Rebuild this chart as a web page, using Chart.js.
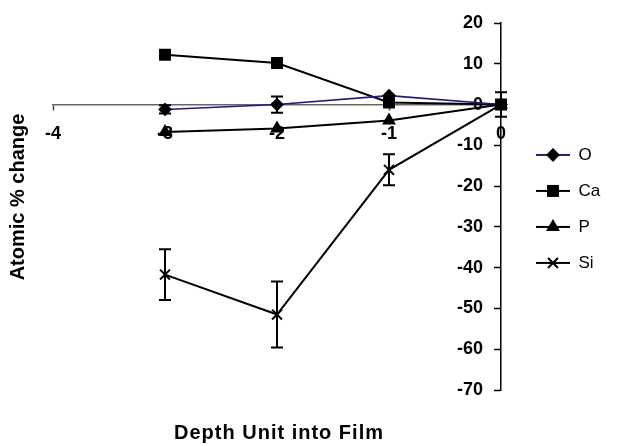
<!DOCTYPE html>
<html><head><meta charset="utf-8">
<script src="https://cdn.jsdelivr.net/npm/chart.js@4/dist/chart.umd.min.js"></script>
<style>html,body{margin:0;padding:0;background:#fff;}#wrap{width:618px;height:444px;position:relative;}</style>
</head><body><div id="wrap"><canvas id="c" width="618" height="444"></canvas></div>
<script>
const depth = [-3, -2, -1, 0];
const seriesNames = ['O', 'Ca', 'P', 'Si'];
const oValues = [-1.2, 0, 2.2, 0];
const caValues = [12.2, 10.2, 0.5, 0];
const pValues = [-6.7, -5.9, -3.9, 0];
const siValues = [-41.7, -51.5, -16, 0];
const oErrors = [1, 2, 0, 0];
const siErrors = [6.2, 8.1, 3.8, 3];
const xTicks = [-4, -3, -2, -1, 0];
const yTicks = [20, 10, 0, -10, -20, -30, -40, -50, -60, -70];
const xTitle = 'Depth Unit into Film';
const yTitle = 'Atomic % change';

const FONT = 'Liberation Sans, Arial, sans-serif';
const styles = [
  {line: '#1c1c7a', point: 'rectRot', r: 5.5, fill: '#000'},
  {line: '#000', point: 'rect', r: 7, fill: '#000'},
  {line: '#000', point: 'triangle', r: 6, fill: '#000'},
  {line: '#000', point: 'crossRot', r: 7, fill: '#000'}
];
const valueSets = [oValues, caValues, pValues, siValues];
const errorSets = [oErrors, null, null, siErrors];

function legendImage(st) {
  const cv = document.createElement('canvas');
  cv.width = 50; cv.height = 16;
  const g = cv.getContext('2d');
  g.strokeStyle = st.line; g.lineWidth = 2;
  g.beginPath(); g.moveTo(16, 8); g.lineTo(50, 8); g.stroke();
  g.fillStyle = st.fill; g.strokeStyle = '#000'; g.lineWidth = 2;
  Chart.helpers.drawPoint(g, {pointStyle: st.point, radius: st.r, rotation: 0, borderWidth: 2}, 33, 8);
  return cv;
}
const legendImgs = styles.map(legendImage);

const datasets = seriesNames.map((name, i) => ({
  label: name,
  data: depth.map((d, j) => ({x: d, y: valueSets[i][j]})),
  errors: errorSets[i],
  borderColor: styles[i].line,
  borderWidth: i === 0 ? 1.6 : 2,
  backgroundColor: styles[i].fill,
  pointStyle: styles[i].point,
  pointRadius: styles[i].r,
  pointBorderColor: '#000',
  pointBackgroundColor: styles[i].fill,
  pointBorderWidth: 2,
  tension: 0,
  fill: false,
  clip: false
}));

const errorBarPlugin = {
  id: 'errorBars',
  afterDatasetsDraw(chart) {
    const {ctx} = chart; const xs = chart.scales.x, ys = chart.scales.y;
    chart.data.datasets.forEach(ds => {
      if (!ds.errors) return;
      ctx.save(); ctx.strokeStyle = '#000'; ctx.lineWidth = 2;
      ds.data.forEach((p, j) => {
        const e = ds.errors[j]; if (!e) return;
        const px = xs.getPixelForValue(p.x);
        const t = ys.getPixelForValue(p.y + e), b = ys.getPixelForValue(p.y - e);
        ctx.beginPath();
        ctx.moveTo(px, t); ctx.lineTo(px, b);
        ctx.moveTo(px - 6, t); ctx.lineTo(px + 6, t);
        ctx.moveTo(px - 6, b); ctx.lineTo(px + 6, b);
        ctx.stroke();
      });
      ctx.restore();
    });
  }
};

const titlePlugin = {
  id: 'axisTitles',
  afterDraw(chart) {
    const ctx = chart.ctx; ctx.save();
    ctx.fillStyle = '#000'; ctx.font = 'bold 20px ' + FONT;
    ctx.textAlign = 'center'; ctx.textBaseline = 'middle';
    ctx.letterSpacing = '1px';
    ctx.fillText(xTitle, 279, 433);
    ctx.letterSpacing = '0px';
    ctx.translate(18, 197); ctx.rotate(-Math.PI / 2);
    ctx.fillText(yTitle, 0, 0);
    ctx.restore();
  }
};

const chart = new Chart(document.getElementById('c'), {
  type: 'line',
  data: {datasets},
  plugins: [errorBarPlugin, titlePlugin],
  options: {
    responsive: false, animation: false, devicePixelRatio: 1,
    layout: {padding: {left: 53, top: 23, bottom: 54, right: 10}},
    scales: {
      x: {
        type: 'linear', min: -4, max: 0, position: {y: 0},
        afterBuildTicks: s => { s.ticks = xTicks.map(v => ({value: v})); },
        afterFit: s => { s.height = 0; },
        ticks: {font: {family: FONT, size: 18, weight: 'bold'}, color: '#000', padding: 14},
        grid: {drawOnChartArea: false, tickLength: 5, tickColor: '#444', tickWidth: 1.5},
        border: {color: '#666', width: 1.5}
      },
      y: {
        type: 'linear', min: -70, max: 20, position: {x: 0},
        afterBuildTicks: s => { s.ticks = yTicks.map(v => ({value: v})); },
        afterFit: s => { s.width = 0; },
        ticks: {font: {family: FONT, size: 18, weight: 'bold'}, color: '#000', padding: 11,
          callback: v => v + '\u2003'},
        grid: {drawOnChartArea: false, tickLength: 6, tickColor: '#000', tickWidth: 1.5},
        border: {color: '#000', width: 1.5}
      }
    },
    plugins: {
      tooltip: {enabled: false},
      legend: {
        position: 'right', fullSize: false, align: 'center',
        title: {display: true, text: ' ', font: {size: 4}, padding: 0},
        labels: {
          usePointStyle: true, pointStyleWidth: 50, padding: 19,
          font: {family: FONT, size: 17}, color: '#000',
          generateLabels: ch => ch.data.datasets.map((ds, i) => ({
            text: ds.label, pointStyle: legendImgs[i], datasetIndex: i,
            fillStyle: '#000', strokeStyle: '#000', fontColor: '#000', lineWidth: 0, hidden: false
          }))
        }
      }
    }
  }
});
const d = chart.chartArea.right - 501;
if (Math.abs(d) > 0.5) { chart.options.layout.padding.right += d; chart.update('none'); }
</script></body></html>
